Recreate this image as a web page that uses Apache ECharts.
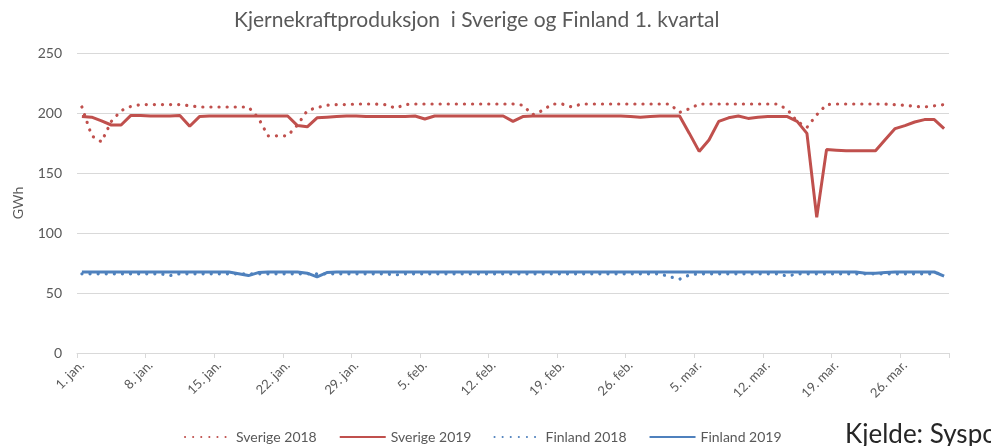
<!DOCTYPE html>
<html>
<head>
<meta charset="utf-8">
<script src="https://cdn.jsdelivr.net/npm/echarts@6/dist/echarts.min.js"></script>
<style>
  html, body { margin: 0; padding: 0; background: #fff; }
  #chart { width: 991px; height: 446px; }
</style>
</head>
<body>
<div id="chart"></div>
<script>
// kategorier: 1. jan. – 30. mar.
const monthNames = ['jan.', 'feb.', 'mar.'];
const monthDays = [31, 28, 30];
const categories = [];
monthNames.forEach((m, i) => {
  for (let d = 1; d <= monthDays[i]; d++) categories.push(d + '. ' + m);
});

const yTicks = [0, 50, 100, 150, 200, 250];

// GWh per dag
const sverige2018 = [
  205, 181, 176, 193, 202, 205.5, 207, 207, 207, 207,
  207, 206, 205, 205, 205, 205, 205, 205, 196, 181,
  181, 181, 190, 202, 204.5, 206.5, 207, 207, 207.5, 207.5,
  207.5, 207, 204, 207, 207.5, 207.5, 207.5, 207.5, 207.5, 207.5,
  207.5, 207.5, 207.5, 207.5, 207.5, 206.5, 198.5, 202, 207.5, 207.5,
  205, 207.5, 207.5, 207.5, 207.5, 207.5, 207.5, 207.5, 207.5, 207.5,
  207.5, 200.5, 203.5, 207.5, 207.5, 207.5, 207.5, 207.5, 207.5, 207.5,
  207.5, 207.5, 203, 193, 188, 198.5, 207, 207.5, 207.5, 207.5,
  207.5, 207.5, 207.5, 207, 206.5, 205.5, 205, 206, 207
];

const sverige2019 = [
  197, 196.5, 193.5, 190, 190, 198, 198, 197.5, 197.5, 197.5,
  198, 189, 197, 197.5, 197.5, 197.5, 197.5, 197.5, 197.5, 197.5,
  197.5, 197.5, 189.5, 188.5, 196, 196.5, 197, 197.5, 197.5, 197,
  197, 197, 197, 197, 197.5, 195, 197.5, 197.5, 197.5, 197.5,
  197.5, 197.5, 197.5, 197.5, 193, 197, 197.5, 197.5, 197.5, 197.5,
  197.5, 197.5, 197.5, 197.5, 197.5, 197.5, 197, 196.5, 197, 197.5,
  197.5, 197.5, 183, 168, 177.5, 193, 196, 197.5, 195.5, 196.5,
  197, 197, 197, 193, 183, 113, 169.5, 169, 168.5, 168.5,
  168.5, 168.5, 178, 187, 189.5, 192.5, 194.5, 194.5, 187
];

const finland2018 = [
  66, 66, 66, 66, 66, 66, 66, 66, 66, 64.5,
  66, 66, 66, 66, 66, 66, 66, 66, 66, 66,
  66, 66, 66, 66, 66, 66, 66, 66, 66, 66,
  66, 66, 65, 66, 66, 66, 66, 66, 66, 66,
  66, 66, 66, 66, 66, 66, 66, 66, 66, 66,
  66, 66, 66, 66, 66, 66, 66, 66, 66, 66,
  63.5, 61.5, 65, 66, 66, 66, 66, 66, 66, 66,
  66, 66, 64, 66, 66, 66, 66, 66, 66, 66,
  66, 66, 66, 66, 66, 66, 66, 66, 67
];

const finland2019 = [
  67.5, 67.5, 67.5, 67.5, 67.5, 67.5, 67.5, 67.5, 67.5, 67.5,
  67.5, 67.5, 67.5, 67.5, 67.5, 67.5, 66, 64.5, 67, 67.5,
  67.5, 67.5, 67.5, 66.5, 63.5, 67, 67.5, 67.5, 67.5, 67.5,
  67.5, 67.5, 67.5, 67.5, 67.5, 67.5, 67.5, 67.5, 67.5, 67.5,
  67.5, 67.5, 67.5, 67.5, 67.5, 67.5, 67.5, 67.5, 67.5, 67.5,
  67.5, 67.5, 67.5, 67.5, 67.5, 67.5, 67.5, 67.5, 67.5, 67.5,
  67.5, 67.5, 67.5, 67.5, 67.5, 67.5, 67.5, 67.5, 67.5, 67.5,
  67.5, 67.5, 67.5, 67.5, 67.5, 67.5, 67.5, 67.5, 67.5, 67.5,
  66.5, 66.5, 67, 67.5, 67.5, 67.5, 67.5, 67.5, 64
];

const RED = '#c0504d';
const BLUE = '#4f81bd';
const FONT = 'Lato';

const dotted = (color) => ({ color: color, width: 3.2, type: [0.1, 8], cap: 'round' });
const solid = (color) => ({ color: color, width: 3 });

const chart = echarts.init(document.getElementById('chart'));

chart.setOption({
  animation: false,
  textStyle: { fontFamily: FONT },
  title: {
    text: 'Kjernekraftproduksjon  i Sverige og Finland 1. kvartal',
    left: 229,
    top: 5,
    textStyle: { fontFamily: FONT, fontSize: 21, fontWeight: 'normal', color: '#595959' }
  },
  legend: {
    data: ['Sverige 2018', 'Sverige 2019', 'Finland 2018', 'Finland 2019'],
    left: 184,
    top: 430,
    padding: 0,
    itemWidth: 46,
    itemHeight: 14,
    itemGap: 22,
    itemStyle: { opacity: 0 },
    textStyle: { fontFamily: FONT, fontSize: 14, color: '#595959' }
  },
  graphic: [{
    type: 'text',
    left: 845,
    top: 422,
    style: { text: 'Kjelde: Syspower', font: '26px ' + FONT, fill: '#262626' }
  }],
  grid: { left: 77, right: 42, top: 53, bottom: 93, outerBoundsMode: 'none' },
  xAxis: {
    type: 'category',
    data: categories,
    boundaryGap: true,
    axisLine: { lineStyle: { color: '#d9d9d9', width: 1 } },
    axisTick: { show: true, interval: 6, length: 5, lineStyle: { color: '#d9d9d9' } },
    axisLabel: { interval: 6, rotate: 45, margin: 10, fontSize: 13, color: '#595959', fontFamily: FONT }
  },
  yAxis: {
    type: 'value',
    min: yTicks[0],
    max: yTicks[yTicks.length - 1],
    interval: 50,
    name: 'GWh',
    nameLocation: 'middle',
    nameGap: 52,
    nameTextStyle: { fontFamily: FONT, fontSize: 14, color: '#595959' },
    axisLine: { show: false },
    axisTick: { show: false },
    axisLabel: { margin: 15, fontSize: 14, color: '#595959', fontFamily: FONT },
    splitLine: { lineStyle: { color: '#d9d9d9', width: 1 } }
  },
  series: [
    { name: 'Sverige 2018', type: 'line', data: sverige2018, symbol: 'none', lineStyle: dotted(RED), itemStyle: { color: RED } },
    { name: 'Sverige 2019', type: 'line', data: sverige2019, symbol: 'none', lineStyle: solid(RED), itemStyle: { color: RED } },
    { name: 'Finland 2018', type: 'line', data: finland2018, symbol: 'none', lineStyle: dotted(BLUE), itemStyle: { color: BLUE } },
    { name: 'Finland 2019', type: 'line', data: finland2019, symbol: 'none', lineStyle: solid(BLUE), itemStyle: { color: BLUE } }
  ]
});
</script>
</body>
</html>
